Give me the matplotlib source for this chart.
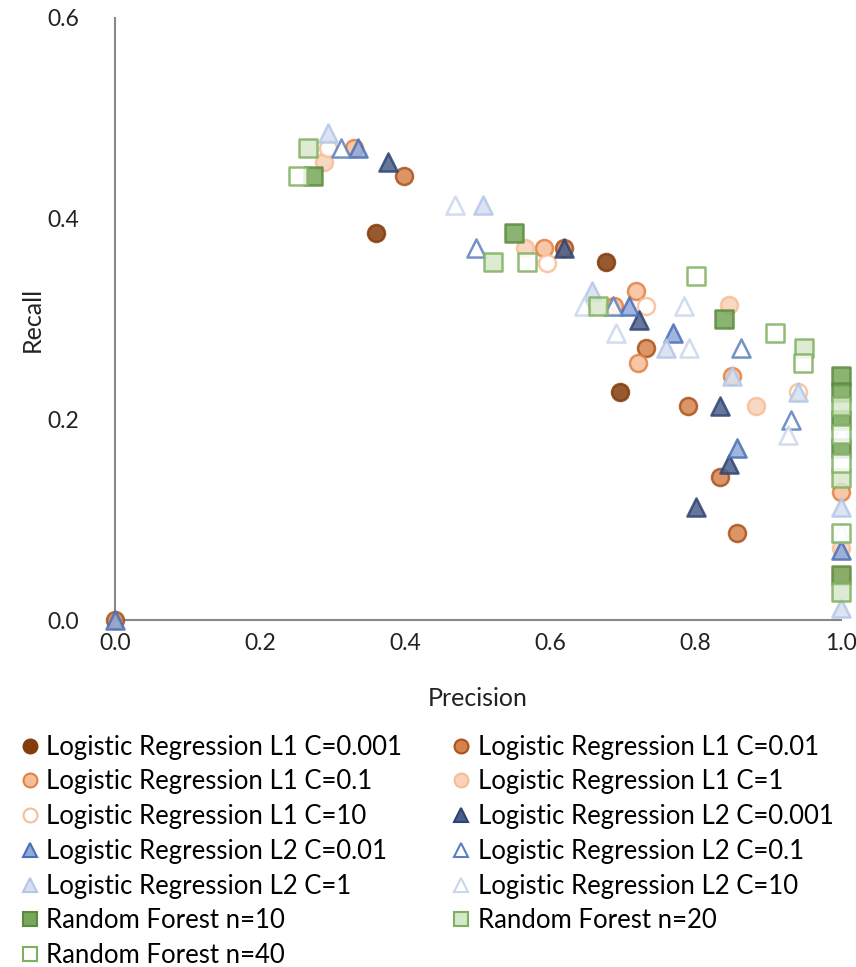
import matplotlib
matplotlib.use('Agg')
import matplotlib.pyplot as plt
from matplotlib.lines import Line2D

plt.rcParams['font.family'] = ['Lato', 'DejaVu Sans']

# (precision, recall) per model
lr1_c0001_p = [0.360, 0.677, 0.696]
lr1_c0001_r = [0.386, 0.357, 0.227]
lr1_c001_p = [0.000, 0.398, 0.618, 0.731, 0.789, 0.833, 0.857]
lr1_c001_r = [0.000, 0.443, 0.371, 0.271, 0.213, 0.143, 0.087]
lr1_c01_p = [0.329, 0.591, 0.718, 0.687, 0.720, 0.850, 1.000]
lr1_c01_r = [0.470, 0.371, 0.328, 0.313, 0.256, 0.243, 0.128]
lr1_c1_p = [0.288, 0.565, 0.846, 0.883, 1.000, 1.000]
lr1_c1_r = [0.456, 0.371, 0.314, 0.213, 0.072, 0.045]
lr1_c10_p = [0.293, 0.595, 0.731, 0.941]
lr1_c10_r = [0.470, 0.356, 0.313, 0.227]

lr2_c0001_p = [0.376, 0.618, 0.722, 0.833, 0.846, 0.800]
lr2_c0001_r = [0.456, 0.371, 0.299, 0.213, 0.156, 0.113]
lr2_c001_p = [0.000, 0.335, 0.708, 0.769, 0.857, 1.000]
lr2_c001_r = [0.000, 0.470, 0.313, 0.286, 0.171, 0.070]
lr2_c01_p = [0.311, 0.498, 0.686, 0.862, 0.931]
lr2_c01_r = [0.470, 0.371, 0.313, 0.271, 0.199]
lr2_c1_p = [0.293, 0.507, 0.657, 0.759, 0.850, 0.941, 1.000, 1.000]
lr2_c1_r = [0.485, 0.414, 0.328, 0.271, 0.243, 0.227, 0.113, 0.012]
lr2_c10_p = [0.468, 0.646, 0.690, 0.784, 0.791, 0.927, 1.000, 1.000]
lr2_c10_r = [0.414, 0.313, 0.286, 0.313, 0.271, 0.184, 0.087, 0.186]

rf10_p = [0.273, 0.550, 0.839, 1.000, 1.000, 1.000, 1.000, 1.000]
rf10_r = [0.443, 0.386, 0.300, 0.243, 0.227, 0.199, 0.171, 0.045]
rf20_p = [0.266, 0.521, 0.665, 0.949, 1.000, 1.000, 1.000]
rf20_r = [0.470, 0.357, 0.313, 0.271, 0.213, 0.142, 0.028]
rf40_p = [0.252, 0.567, 0.800, 0.909, 0.948, 1.000, 1.000, 1.000]
rf40_r = [0.443, 0.357, 0.343, 0.286, 0.256, 0.185, 0.157, 0.087]

series = [
    ("Logistic Regression L1 C=0.001", lr1_c0001_p, lr1_c0001_r, 'o', '#843C0C', '#843C0C'),
    ("Logistic Regression L1 C=0.01", lr1_c001_p, lr1_c001_r, 'o', '#D5834B', '#A8531D'),
    ("Logistic Regression L1 C=0.1", lr1_c01_p, lr1_c01_r, 'o', '#F6BE98', '#E38143'),
    ("Logistic Regression L1 C=1", lr1_c1_p, lr1_c1_r, 'o', '#F9D2B8', '#F6BE98'),
    ("Logistic Regression L1 C=10", lr1_c10_p, lr1_c10_r, 'o', 'white', '#F6BE98'),
    ("Logistic Regression L2 C=0.001", lr2_c0001_p, lr2_c0001_r, '^', '#4A5F8C', '#2E4470'),
    ("Logistic Regression L2 C=0.01", lr2_c001_p, lr2_c001_r, '^', '#8FAADC', '#4A6FB5'),
    ("Logistic Regression L2 C=0.1", lr2_c01_p, lr2_c01_r, '^', 'white', '#5B7FC0'),
    ("Logistic Regression L2 C=1", lr2_c1_p, lr2_c1_r, '^', '#D6E0F2', '#B4C7E7'),
    ("Logistic Regression L2 C=10", lr2_c10_p, lr2_c10_r, '^', 'white', '#C9D6EE'),
    ("Random Forest n=10", rf10_p, rf10_r, 's', '#77A75A', '#5A8A3C'),
    ("Random Forest n=20", rf20_p, rf20_r, 's', '#D6E8CA', '#7FB05E'),
    ("Random Forest n=40", rf40_p, rf40_r, 's', 'white', '#7FB05E'),
]

fig = plt.figure(figsize=(8.56, 9.67), dpi=100)
ax = fig.add_axes([0.1343, 0.3588, 0.8481, 0.6226])

handles = []
for label, px, rc, mk, fc, ec in series:
    ax.scatter(px, rc, marker=mk, s=150 if mk == 'o' else 170, facecolor=fc, edgecolor=ec,
               linewidth=1.8, alpha=0.85, clip_on=False, zorder=3)
    handles.append(Line2D([], [], linestyle='none', marker=mk, markersize=10,
                          markerfacecolor=fc, markeredgecolor=ec, markeredgewidth=1.5, label=label))

ax.set_xlim(0, 1.0)
ax.set_ylim(0, 0.6)
ax.set_xticks([0, 0.2, 0.4, 0.6, 0.8, 1.0])
ax.set_yticks([0, 0.2, 0.4, 0.6])
ax.xaxis.set_major_formatter(matplotlib.ticker.FormatStrFormatter('%.1f'))
ax.yaxis.set_major_formatter(matplotlib.ticker.FormatStrFormatter('%.1f'))
ax.tick_params(axis='x', length=0, pad=9, labelsize=16.5, colors='#222222')
ax.tick_params(axis='y', length=0, pad=26, labelsize=16.5, colors='#222222')
for s in ['top', 'right']:
    ax.spines[s].set_visible(False)
for s in ['left', 'bottom']:
    ax.spines[s].set_color('#888888')
    ax.spines[s].set_linewidth(1.5)
ax.set_xlabel("Precision", fontsize=18, labelpad=24, color='#222222')
ax.set_ylabel("Recall", fontsize=18, labelpad=2, color='#222222')

# legend is row-major in the reference, matplotlib fills column-major
order = list(range(0, 13, 2)) + list(range(1, 13, 2))
fig.legend([handles[i] for i in order], [handles[i].get_label() for i in order],
           loc='upper left', bbox_to_anchor=(0.012, 0.251), ncol=2, frameon=False,
           fontsize=18.5, handlelength=0.7, handletextpad=0.3, columnspacing=1.95,
           labelspacing=0.38, borderaxespad=0)

fig.savefig('out.png', dpi=100)
